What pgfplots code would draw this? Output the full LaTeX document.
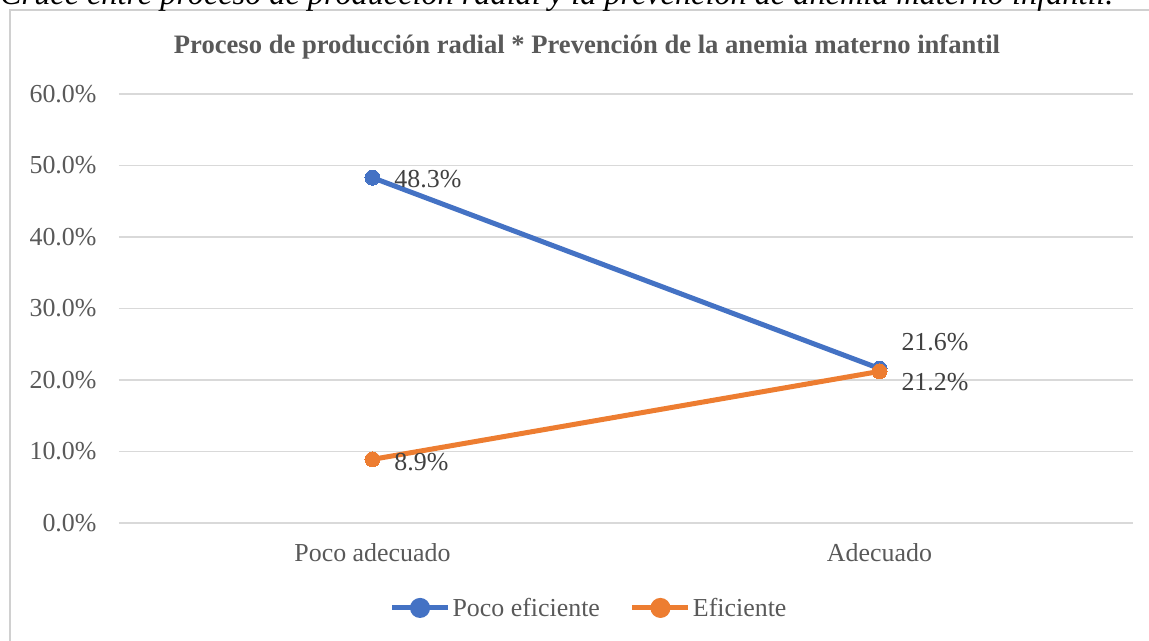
\documentclass[border=0pt]{standalone}
\usepackage{pgfplots}
\pgfplotsset{compat=1.18}
\usepackage{pgfplotstable}
\usepackage{fontspec}
\setmainfont{Liberation Serif}
\definecolor{cblue}{HTML}{4472C4}
\definecolor{corange}{HTML}{ED7D31}
\definecolor{tgray}{HTML}{595959}
\definecolor{lgray}{HTML}{404040}
\definecolor{gridc}{HTML}{D9D9D9}
\definecolor{borderc}{HTML}{D0D0D0}

\pgfplotstableread{
x y dy
0 48.3 -1
1 21.6 26
}\poco
\pgfplotstableread{
x y dy
0 8.9 -3
1 21.2 -11
}\efic

\begin{document}
\begin{tikzpicture}
\useasboundingbox (-119bp,-118bp) rectangle (1030bp,523bp);
\clip (-119bp,-118bp) rectangle (1030bp,523bp);
\draw[borderc, line width=1.5bp] (-109bp,513bp) rectangle (1045bp,-140bp);
\node[anchor=base west, inner sep=0pt] at (-119bp,518bp) {\resizebox{1113bp}{!}{\itshape Cruce entre proceso de producción radial y la prevención de anemia materno infantil.}};
\node[anchor=base, inner sep=0pt, text=tgray, font=\bfseries\fontsize{26.7}{30}\selectfont] at (468bp,469bp) {Proceso de producción radial * Prevención de la anemia materno infantil};
\begin{axis}[
  at={(0bp,0bp)}, anchor=south west,
  scale only axis, width=1014bp, height=429bp,
  xmin=-0.5, xmax=1.5, ymin=0, ymax=60,
  axis line style={draw=none},
  tick style={draw=none},
  xtick={0,1}, xticklabels={Poco adecuado, Adecuado},
  ytick={0,10,...,60},
  xmajorgrids=false, ymajorgrids=true,
  grid style={gridc, line width=1.5bp},
  yticklabel={\pgfmathprintnumber[fixed,fixed zerofill,precision=1]{\tick}\%},
  /pgf/number format/assume math mode=true,
  ticklabel style={font=\fontsize{26}{30}\selectfont, text=tgray},
  yticklabel style={anchor=east, xshift=-19bp},
  xticklabel style={anchor=north, yshift=-17bp},
  clip=false,
  nodes near coords={\pgfmathprintnumber[fixed,fixed zerofill,precision=1]{\pgfplotspointmeta}\%},
  visualization depends on={\thisrow{dy} \as \dy},
  nodes near coords style={anchor=west, inner sep=0pt, xshift=22bp, yshift=\dy bp, font=\fontsize{26}{30}\selectfont, text=lgray},
  legend columns=2,
  legend style={at={(0.4635,-0.198)}, anchor=center, draw=none, fill=none,
    font=\fontsize{26}{30}\selectfont, text=tgray,
    /tikz/every even column/.append style={column sep=28bp}},
  legend image code/.code={
    \draw[#1, mark=none] (0bp,0bp) -- (56bp,0bp);
    \fill[#1] (28bp,0bp) circle (7.5bp);
  },
]
\addplot[cblue, line width=5bp, mark=*, mark size=7.5bp, mark options={fill=cblue, draw=cblue, line width=0pt}] table[x=x,y=y] {\poco};
\addlegendentry{Poco eficiente}
\addplot[corange, line width=5bp, mark=*, mark size=7.5bp, mark options={fill=corange, draw=corange, line width=0pt}] table[x=x,y=y] {\efic};
\addlegendentry{Eficiente}
\end{axis}
\end{tikzpicture}
\end{document}
